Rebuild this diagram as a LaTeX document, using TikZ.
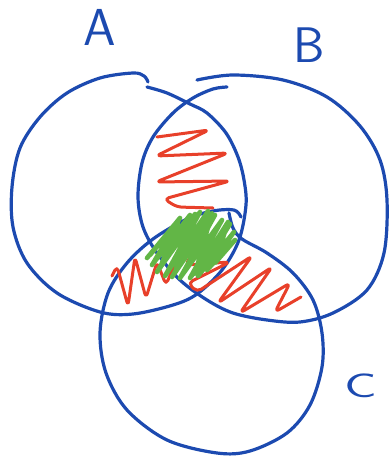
\documentclass[tikz,border=0pt]{standalone}
\usepackage{tikz}
\definecolor{penblue}{RGB}{28,74,176}
\definecolor{penred}{RGB}{232,64,42}
\definecolor{pengreen}{RGB}{98,182,70}
\tikzset{
  bluepen/.style={draw=penblue, line width=3.2pt, line cap=round, line join=round},
  redpen/.style={draw=penred, line width=3pt, line cap=round, line join=round, rounded corners=5pt},
  greenpen/.style={draw=pengreen, line width=4.6pt, line cap=round, line join=round},
  lbl/.style={text=penblue, inner sep=0pt}
}
\begin{document}
\begin{tikzpicture}[x=1pt,y=-1pt]
\useasboundingbox (0,0) rectangle (388,457);
% circle A
\draw[bluepen] plot[smooth, tension=0.55] coordinates {
 (148,82) (144,76) (133,73) (100,78) (67,93) (40,117) (20,148) (12,187) (13,227)
 (27,263) (57,293) (100,312) (133,314) (173,305) (197,294) (222,270) (239,240)
 (246,205) (244,180) (238,157) (226,133) (207,113) (190,104) (167,93) (147,87)};
% circle B
\draw[bluepen] plot[smooth, tension=0.55] coordinates {
 (197,80) (233,75) (283,80) (327,97) (360,126) (380,160) (387,200) (384,253)
 (367,290) (333,313) (300,322) (267,320) (233,313) (207,300) (180,280) (157,253)
 (143,227) (138,197) (142,163) (153,137) (173,113) (193,98) (213,89) (227,87)};
% circle C
\draw[bluepen] plot[smooth, tension=0.55] coordinates {
 (241,217) (234,210) (213,211) (187,219) (153,239) (127,263) (108,293) (100,333)
 (106,373) (127,410) (167,440) (217,453) (250,451) (287,433) (310,405) (322,367)
 (322,333) (313,300) (293,273) (267,253) (242,239) (233,228) (229,213)};
% red scribbles
\draw[redpen] (157,137) -- (209,130) -- (156,156) -- (228,153) -- (156,182)
  -- (230,181) -- (164,199) -- (177,207) -- (213,208);
\draw[redpen] (112,276) -- (117,266) -- (128,306) -- (135,257) -- (146,298)
  -- (157,262) -- (166,285) -- (182,246) -- (205,236) -- (185,265) -- (230,262)
  -- (188,283) -- (197,292) -- (252,256) -- (218,303) -- (272,267) -- (240,313)
  -- (290,283) -- (275,312) -- (301,297);
% green scribble
\draw[greenpen] (147,258) -- (180,218) -- (152,265) -- (190,215) -- (157,272)
  -- (200,212) -- (165,276) -- (208,211) -- (172,277) -- (215,215) -- (180,278)
  -- (222,220) -- (190,278) -- (230,224) -- (198,276) -- (234,232) -- (207,270)
  -- (235,240) -- (215,263) -- (228,222) -- (195,274) -- (212,213) -- (175,272)
  -- (195,214) -- (160,268) -- (178,222) -- (150,255);
% labels
\node[lbl, font=\sffamily\fontsize{52}{52}\selectfont] (labA) at (100,27) {A};
\node[lbl, font=\sffamily\fontsize{50}{50}\selectfont] (labB) at (309,45) {B};
\node[lbl, font=\sffamily\fontsize{34}{34}\selectfont] (labC) at (361,386) {\scalebox{1.6}[1]{C}};
\end{tikzpicture}
\end{document}
